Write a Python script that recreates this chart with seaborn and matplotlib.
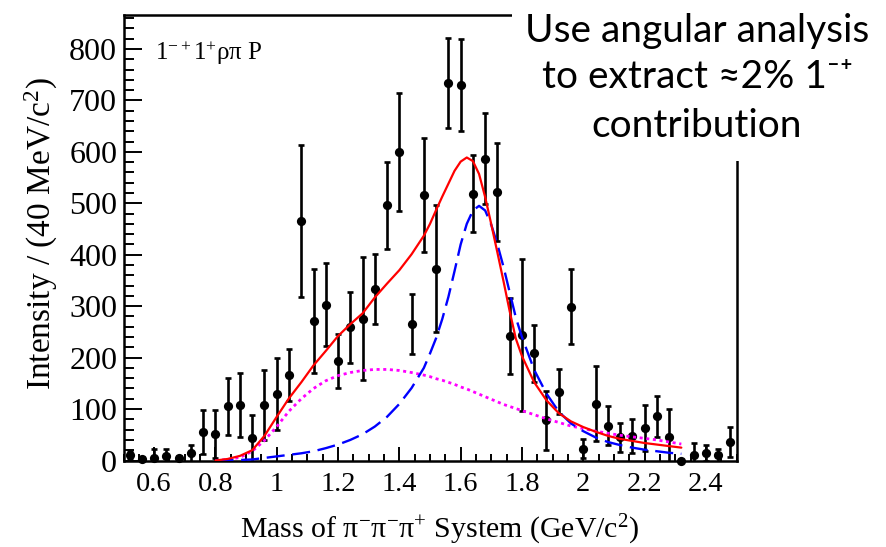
import matplotlib
matplotlib.use("Agg")
import matplotlib.pyplot as plt
import seaborn as sns
from matplotlib.ticker import MultipleLocator
from matplotlib.patches import Rectangle

# Measured 1-+ 1+ rho-pi P-wave intensity, 40 MeV bins
mass = [0.52, 0.56, 0.60, 0.64, 0.68, 0.72, 0.76, 0.80, 0.84, 0.88,
        0.92, 0.96, 1.00, 1.04, 1.08, 1.12, 1.16, 1.20, 1.24, 1.28,
        1.32, 1.36, 1.40, 1.44, 1.48, 1.52, 1.56, 1.60, 1.64, 1.68,
        1.72, 1.76, 1.80, 1.84, 1.88, 1.92, 1.96, 2.00, 2.04, 2.08,
        2.12, 2.16, 2.20, 2.24, 2.28, 2.32, 2.36, 2.40, 2.44, 2.48]
intensity = [10, 2, 5, 9, 4, 14, 55, 52, 105, 108,
             43, 107, 130, 166, 465, 272, 303, 193, 259, 276,
             333, 496, 600, 265, 516, 373, 734, 730, 519, 587,
             522, 242, 244, 208, 78, 134, 299, 23, 110, 68,
             45, 47, 63, 86, 45, 0, 10, 15, 10, 36]
intensity_err = [8, 4, 18, 14, 4, 17, 43, 47, 56, 62,
                 46, 68, 70, 50, 148, 101, 81, 52, 69, 120,
                 68, 84, 115, 58, 110, 124, 88, 89, 74, 89,
                 95, 74, 147, 56, 58, 43, 73, 18, 73, 37,
                 28, 33, 45, 40, 55, 3, 24, 16, 12, 29]

# Fit curves: total, resonance and non-resonant components
fit_mass = [0.80, 0.84, 0.88, 0.92, 0.96, 1.00, 1.04, 1.08, 1.12, 1.16,
            1.20, 1.24, 1.28, 1.32, 1.36, 1.40, 1.44, 1.48,
            1.50, 1.52, 1.54, 1.56, 1.58, 1.60, 1.62, 1.64, 1.66, 1.68,
            1.70, 1.72, 1.74, 1.76, 1.78, 1.80,
            1.84, 1.88, 1.92, 1.96, 2.00, 2.04, 2.08, 2.12, 2.16, 2.20,
            2.24, 2.28, 2.32]
fit_total = [0, 3, 9, 20, 48, 85, 121, 152, 185, 213,
             242, 265, 286, 317, 344, 370, 401, 437,
             460, 487, 513, 538, 563, 581, 589, 582, 557, 512,
             459, 404, 348, 290, 237, 203,
             152, 117, 92, 76, 65, 56, 48, 42, 38, 34,
             31, 28, 25]
fit_resonance = [0, 1, 1, 2, 5, 8, 11, 14, 18, 24,
                 31, 40, 51, 66, 85, 110, 141, 180,
                 208, 238, 275, 318, 368, 420, 460, 486, 495, 486,
                 458, 420, 376, 327, 278, 240,
                 176, 130, 95, 72, 57, 45, 36, 30, 25, 21,
                 18, 15, 13]
fit_nonres = [0, 2, 6, 18, 39, 66, 96, 120, 140, 155,
              165, 171, 175, 177, 177, 175, 171, 166,
              163, 159, 156, 152, 148, 143, 139, 134, 129, 124,
              119, 114, 109, 105, 101, 97,
              89, 81, 74, 67, 62, 57, 53, 49, 46, 43,
              40, 36, 32]

x_ticks = [0.6, 0.8, 1.0, 1.2, 1.4, 1.6, 1.8, 2.0, 2.2, 2.4]
x_tick_labels = ["0.6", "0.8", "1", "1.2", "1.4", "1.6", "1.8", "2", "2.2", "2.4"]
y_ticks = [0, 100, 200, 300, 400, 500, 600, 700, 800]

sns.set_theme(style="ticks")
serif = ["Liberation Serif", "DejaVu Serif"]
plt.rcParams["font.family"] = serif
plt.rcParams["mathtext.fontset"] = "custom"
plt.rcParams["mathtext.rm"] = "Liberation Serif"
plt.rcParams["mathtext.it"] = "Liberation Serif:italic"
plt.rcParams["lines.scale_dashes"] = False

W, H = 886, 547
fig = plt.figure(figsize=(W / 100, H / 100), dpi=100)
fig.patch.set_facecolor("white")
x0, x1, y0, y1 = 123.5, 736.5, 460.5, 15.0
ax = fig.add_axes([x0 / W, 1 - y0 / H, (x1 - x0) / W, (y0 - y1) / H])
ax.set_facecolor("white")

# data points with error bars
ax.errorbar(mass, intensity, yerr=intensity_err, fmt="none", ecolor="black",
            elinewidth=1.9, capsize=2.2, capthick=1.9, zorder=2)
sns.scatterplot(x=mass, y=intensity, color="black", s=44, edgecolor="black",
                linewidth=0, ax=ax, zorder=2.5, clip_on=False)

# fit components
sns.lineplot(x=fit_mass, y=fit_nonres, color="#ff00ff", linewidth=2.0,
             linestyle=(0, (2.2, 2.6)), sort=False, estimator=None, ax=ax, zorder=3)
sns.lineplot(x=fit_mass, y=fit_resonance, color="#0000ff", linewidth=1.7,
             linestyle=(0, (13, 5.5)), sort=False, estimator=None, ax=ax, zorder=3)
sns.lineplot(x=fit_mass, y=fit_total, color="#ff0000", linewidth=1.6,
             sort=False, estimator=None, ax=ax, zorder=3.5)

ax.set_xlim(0.5, 2.5)
ax.set_ylim(0, 866)
ax.set_xticks(x_ticks)
ax.set_xticklabels(x_tick_labels)
ax.set_yticks(y_ticks)
ax.xaxis.set_minor_locator(MultipleLocator(0.05))
ax.yaxis.set_minor_locator(MultipleLocator(20))
ax.tick_params(axis="both", which="both", direction="in", color="black",
               labelcolor="black", top=False, right=False)
ax.tick_params(axis="y", which="major", length=13, width=1.4, pad=4.5, labelsize=23)
ax.tick_params(axis="y", which="minor", length=7, width=1.4)
ax.tick_params(axis="x", which="major", length=10, width=1.4, pad=8, labelsize=20.5)
ax.tick_params(axis="x", which="minor", length=5, width=1.4)
for side in ["left", "bottom", "top", "right"]:
    ax.spines[side].set_visible(True)
    ax.spines[side].set_color("black")
    ax.spines[side].set_linewidth(1.8)
ax.set_xlabel("")
ax.set_ylabel("")

fig.text(440 / W, 1 - 538 / H,
         r"Mass of $\mathrm{\pi^{-}\pi^{-}\pi^{+}}$ System (GeV/$\mathrm{c^{2}}$)",
         ha="center", va="baseline", fontsize=21.5, color="black")
fig.text(41 / W, 1 - 234 / H, r"Intensity / (40 MeV/$\mathrm{c^{2}}$)",
         rotation=90, ha="center", va="center", fontsize=24, color="black")
fig.text(155 / W, 1 - 60 / H, r"$\mathrm{1^{-+}1^{+}\rho\pi}$ P",
         ha="left", va="baseline", fontsize=18, color="black")

# annotation panel in the upper right
fig.patches.append(Rectangle((512 / W, 1 - 161 / H), (W - 512) / W, 161 / H,
                             transform=fig.transFigure, facecolor="white",
                             edgecolor="none", zorder=5))
note_font = ["Lato", "DejaVu Sans"]
for line, base in [("Use angular analysis", 42),
                   ("to extract \u22482% 1\u207b\u207a", 88),
                   ("contribution", 137)]:
    fig.text(697 / W, 1 - base / H, line, ha="center", va="baseline",
             fontsize=28, family=note_font, color="black", zorder=6)

fig.savefig("out.png", dpi=100, facecolor="white")
